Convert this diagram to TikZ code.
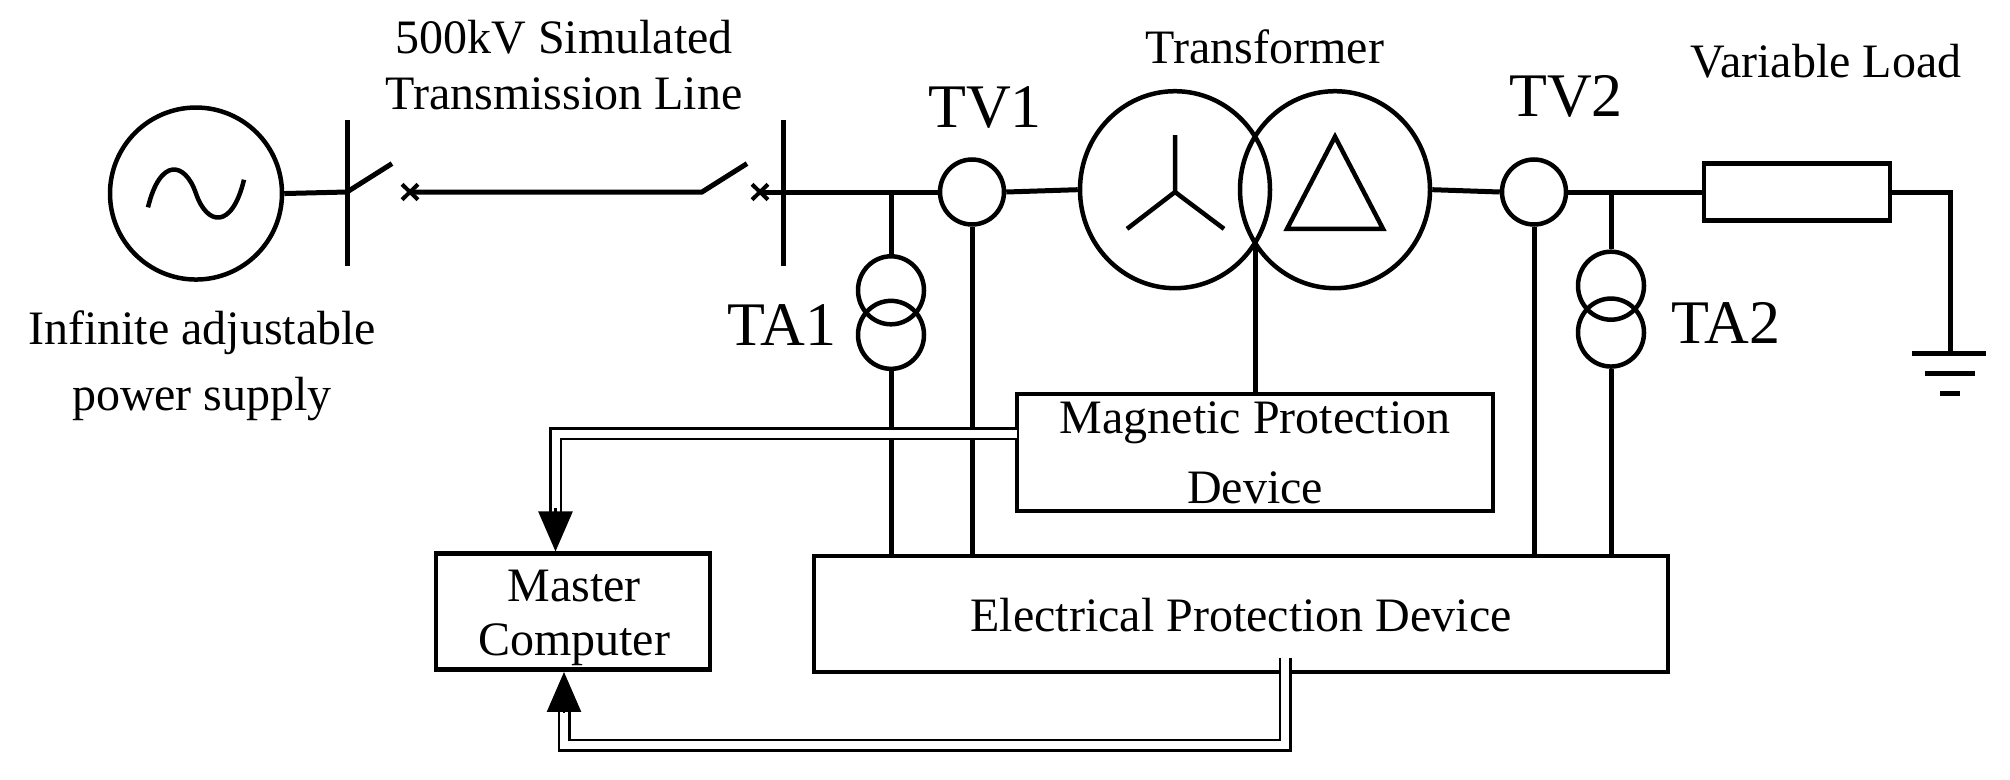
\documentclass[tikz,border=0pt]{standalone}
\usepackage{fontspec}
\setmainfont{Liberation Serif}
\usetikzlibrary{shapes.geometric,arrows.meta}
\begin{document}
\begin{tikzpicture}[x=1pt,y=-0.768pt,line width=5pt,
  el/.style={draw,ellipse,inner sep=0pt,line width=4.5pt},
  box/.style={draw,rectangle,inner sep=0pt,line width=4.5pt},
  lbl/.style={inner sep=0pt,font=\fontsize{48}{54}\selectfont},
  big/.style={inner sep=0pt,font=\fontsize{62}{68}\selectfont},
  dbl/.style={double,double distance=8pt,line width=2.5pt},
  arr/.style={-{Triangle[width=34pt,length=40pt]},line width=2.5pt}]
\useasboundingbox (0,0) rectangle (2010,1015.6);
% source
\node[el,minimum width=172,minimum height=172] (src) at (196,252) {};
\draw[line width=4.5pt] (148,270) .. controls (160,205) and (185,210) .. (196,252) .. controls (207,294) and (232,299) .. (244,234);
\coordinate (b1t) at (347,156); \coordinate (b1b) at (347,346);
\draw (b1t) -- (b1b);
\draw (src.east) -- (347,250) -- (392,213);
\coordinate (x1) at (410,250);
\draw[line width=4pt] ([shift={(-8,-10)}]x1) -- ([shift={(8,10)}]x1) ([shift={(-8,10)}]x1) -- ([shift={(8,-10)}]x1);
\coordinate (s2) at (702,250);
\draw (x1) -- (s2) -- (747,213);
\coordinate (x2) at (760,250);
\draw[line width=4pt] ([shift={(-8,-10)}]x2) -- ([shift={(8,10)}]x2) ([shift={(-8,10)}]x2) -- ([shift={(8,-10)}]x2);
\coordinate (b2t) at (783,156); \coordinate (b2b) at (783,346);
\draw (b2t) -- (b2b);
% TV1, TA1
\node[el,minimum width=64,minimum height=65] (tv1) at (972,250) {};
\draw (x2) -- (tv1.west);
\node[el,minimum width=66,minimum height=68] (ta1a) at (891,378) {};
\node[el,minimum width=66,minimum height=68] (ta1b) at (891,436) {};
\coordinate (j1) at (891,250);
\draw (j1) -- (ta1a.north);
% transformer
\node[el,minimum width=190,minimum height=197] (tl) at (1175,247) {};
\node[el,minimum width=190,minimum height=197] (tr) at (1335,247) {};
\draw (tv1.east) -- (tl.west);
\draw[line width=4.5pt] (1175,176) -- (1175,250) -- (1127,298) (1175,250) -- (1224,298);
\draw[line width=4.5pt] (1335,178) -- (1383,298) -- (1287,298) -- cycle;
% TV2, TA2
\node[el,minimum width=64,minimum height=65] (tv2) at (1534,250) {};
\draw (tr.east) -- (tv2.west);
\node[el,minimum width=66,minimum height=68] (ta2a) at (1611,372) {};
\node[el,minimum width=66,minimum height=68] (ta2b) at (1611,433) {};
\coordinate (j2) at (1611,250);
\draw (j2) -- (ta2a.north);
% load
\node[box,minimum width=186,minimum height=57] (load) at (1797,250) {};
\draw (tv2.east) -- (load.west);
\coordinate (g) at (1950,460);
\draw (load.east) -- (1950,250) -- (g);
\draw (1912,460) -- (1986,460) (1925,486) -- (1975,486) (1940,512) -- (1960,512);
% boxes
\node[box,minimum width=476,minimum height=117] (mag) at (1255,589) {};
\node[box,minimum width=854,minimum height=116] (elec) at (1241,799.5) {};
\node[box,minimum width=274,minimum height=116] (mast) at (573,796.5) {};
\draw (1255,322) -- (mag.north);
\draw (ta1b.south) -- (ta1b.south |- elec.north);
\draw (tv1.south) -- (tv1.south |- elec.north);
\draw (tv2.south) -- (tv2.south |- elec.north);
\draw (ta2b.south) -- (ta2b.south |- elec.north);
% signal lines
\coordinate (mw) at (1017,565);
\coordinate (es) at (1285,857);
\draw[dbl] (mw) -- (555.5,565) -- (555.5,668);
\draw[arr] (555.5,662) -- (mast.north -| 555.5,738);
\draw[dbl] (es) -- (1285,970.5) -- (564,970.5) -- (564,922);
\draw[arr] (564,928) -- (mast.south -| 564,738);
% labels
\node[lbl] at (564,48) {500kV Simulated};
\node[lbl] at (564,122) {Transmission Line};
\node[lbl] at (202,433) {Infinite adjustable};
\node[lbl] at (202,519) {power supply};
\node[lbl] at (1265,61) {Transformer};
\node[lbl] at (1826,80) {Variable Load};
\node[big] at (985,140) {TV1};
\node[big] at (1566,125) {TV2};
\node[big] at (782,423) {TA1};
\node[big] at (1726,420) {TA2};
\node[lbl] at (1255,551) {Magnetic Protection};
\node[lbl] at (1255,635) {Device};
\node[lbl] at (574,763) {Master};
\node[lbl] at (574,840) {Computer};
\node[lbl] at (1241,801) {Electrical Protection Device};
\end{tikzpicture}
\end{document}
